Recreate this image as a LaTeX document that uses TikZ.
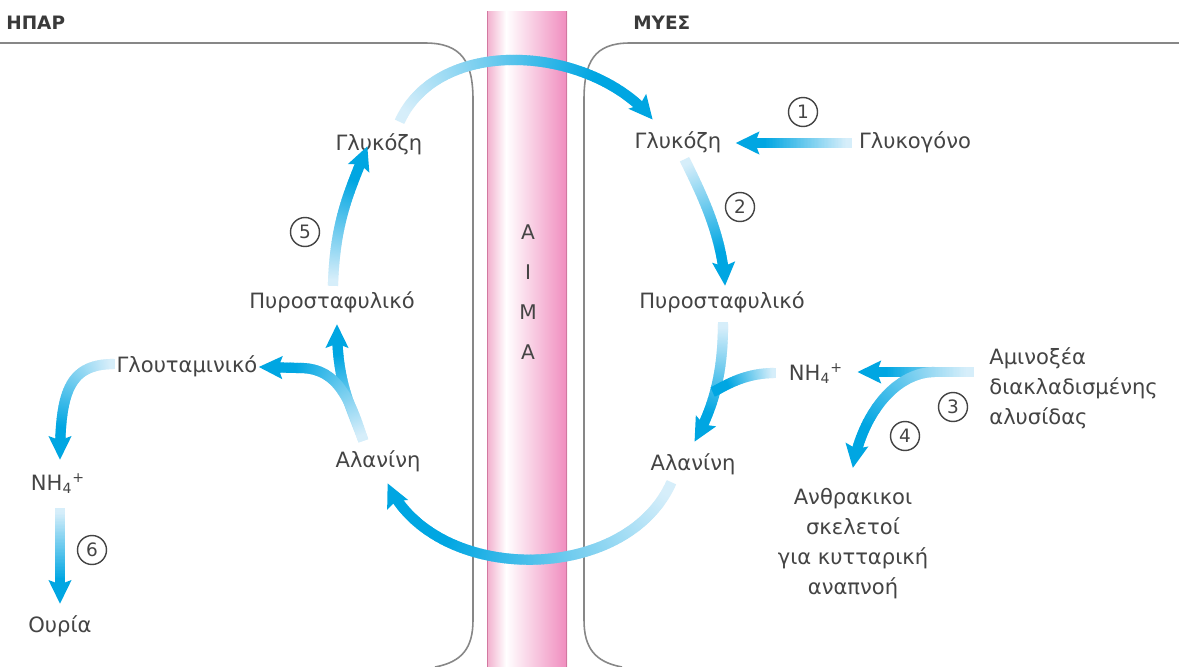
\documentclass[tikz,border=0pt]{standalone}
\usepackage{fontspec}
\setmainfont{DejaVu Sans}
\usetikzlibrary{decorations.markings,calc}
\definecolor{arrowblue}{RGB}{0,166,226}
\definecolor{paleblue}{RGB}{214,238,250}
\definecolor{txt}{RGB}{68,68,68}
\definecolor{panelgray}{RGB}{135,135,135}
\definecolor{pinkL}{RGB}{242,175,205}
\definecolor{pinkR}{RGB}{240,140,190}
\definecolor{pinkE}{RGB}{210,120,160}
\newcommand\gradpiece{%
  \pgfmathsetmacro\gp{max(0,min(100,140*(\pgfkeysvalueof{/pgf/decoration/mark info/distance from start}/\pgfdecoratedpathlength-0.04)))}%
  \fill[arrowblue!\gp!paleblue] (-0.6pt,-2.9pt) rectangle (0.6pt,2.9pt);}
\newcommand\ghead{\fill[arrowblue] (-13pt,-6.6pt) -- (0.5pt,0pt) -- (-13pt,6.6pt) -- (-10.5pt,0pt) -- cycle;}
\tikzset{
  garrow/.style={postaction={decorate,decoration={markings,
      mark=between positions 0 and -10pt step 0.8pt with {\gradpiece}}},
    postaction={decorate,decoration={markings,
      mark=at position 0.9999 with {\ghead}}}},
  gline/.style={postaction={decorate,decoration={markings,
      mark=between positions 0 and 1 step 0.8pt with {\gradpiece}}}},
  lbl/.style={text=txt, font=\fontsize{12}{17}\selectfont, inner sep=0pt, text height=8.8pt, text depth=2.4pt},
  head/.style={text=txt!85!black, font=\bfseries\fontsize{10.5}{12}\selectfont, inner sep=0pt, anchor=west},
  num/.style={circle, draw=txt, line width=0.8pt, text=txt, font=\fontsize{10.5}{12}\selectfont, minimum size=0.58cm, inner sep=0pt},
  vessel/.style={text=txt, font=\fontsize{11.5}{12}\selectfont, inner sep=0pt},
  panelline/.style={draw=panelgray, line width=0.9pt}
}
\begin{document}
\begin{tikzpicture}[x=0.02cm, y=-0.02cm]
\useasboundingbox (0,0) rectangle (1179,666);
\fill[white] (0,0) rectangle (1179,666);
% panels
\draw[panelline] (0,43) -- (425,43) .. controls (462,43) and (473,62) .. (473,100) -- (473,620) .. controls (473,648) and (462,662) .. (435,667);
\draw[panelline] (1179,43) -- (630,43) .. controls (594,43) and (584,62) .. (584,100) -- (584,620) .. controls (584,648) and (595,662) .. (622,667);
% blood vessel
\shade[left color=pinkL, right color=white] (487,11) rectangle (506,667);
\shade[left color=white, right color=pinkR] (506,11) rectangle (567,667);
\draw[pinkE, line width=0.8pt] (487.5,11) -- (487.5,667);
\draw[pinkE, line width=0.8pt] (566.5,11) -- (566.5,667);
\node[vessel] (v1) at (528,232) {Α};
\node[vessel] (v2) at (528,272) {Ι};
\node[vessel] (v3) at (528,312) {Μ};
\node[vessel] (v4) at (528,352) {Α};
% headings
\node[head] (hpar) at (6,23) {ΗΠΑΡ};
\node[head] (myes) at (633,23) {ΜΥΕΣ};
% labels right
\node[lbl] (gluR) at (678,143) {Γλυκόζη};
\node[lbl] (glyc) at (915,143) {Γλυκογόνο};
\node[lbl] (pyrR) at (722,303) {Πυροσταφυλικό};
\node[lbl] (alaR) at (693,465) {Αλανίνη};
\node[lbl] (nhR) at (816,375) {NH\textsubscript{4}\textsuperscript{+}};
\node[lbl, text height=, text depth=, anchor=west, align=left] (amino) at (989,388) {Αμινοξέα\\διακλαδισμένης\\αλυσίδας};
\node[lbl, text height=, text depth=, anchor=north, align=center] (carbon) at (853,488) {Ανθρακικοι\\σκελετοί\\για κυτταρική\\αναπνοή};
% labels left
\node[lbl] (gluL) at (379,145) {Γλυκόζη};
\node[lbl] (pyrL) at (332,303) {Πυροσταφυλικό};
\node[lbl] (glut) at (187,367) {Γλουταμινικό};
\node[lbl] (alaL) at (378,462) {Αλανίνη};
\node[lbl] (nhL) at (58,485) {NH\textsubscript{4}\textsuperscript{+}};
\node[lbl] (urea) at (60,627) {Ουρία};
% numbers
\node[num] (n1) at (803,112) {1};
\node[num] (n2) at (740,207) {2};
\node[num] (n3) at (953,407) {3};
\node[num] (n4) at (905,436) {4};
\node[num] (n5) at (305,232) {5};
\node[num] (n6) at (92,550) {6};
% arrows
\path[garrow] ($(gluL.north)+(21,-14)$) .. controls (440,35) and (590,45) .. ($(gluR.north)+(-26,-14)$);
\path[garrow] ($(glyc.west)+(-8,0)$) -- ($(gluR.east)+(15,0)$);
\path[garrow] ($(gluR.south)+(7,7)$) .. controls (702,195) and (722,235) .. ($(pyrR.north)+(3,-8)$);
\path[garrow] ($(pyrR.south)+(1,10)$) .. controls (723,375) and (713,408) .. ($(alaR.north)+(2,-14)$);
\path[gline] ($(nhR.west)+(-14,-2)$) .. controls (742,373) and (722,388) .. ($(alaR.north)+(20,-63)$);
\path[garrow] ($(amino.west)+(-16,-16)$) -- ($(nhR.east)+(15,-3)$);
\path[garrow] ($(amino.west)+(-16,-16)$) -- (935,372) .. controls (895,372) and (862,415) .. ($(carbon.north)+(0,-21)$);
\path[garrow] ($(alaR.south)+(-22,8)$) .. controls (625,585) and (435,585) .. ($(alaL.south)+(10,12)$);
\path[garrow] ($(alaL.north)+(-15,-12)$) .. controls (348,400) and (337,380) .. ($(pyrL.south)+(5,12)$);
\path[garrow] ($(alaL.north)+(-15,-12)$) .. controls (350,400) and (338,368) .. (300,368) -- ($(glut.east)+(2,0)$);
\path[garrow] ($(pyrL.north)+(1,-8)$) .. controls (335,220) and (350,190) .. ($(gluL.south)+(-12,-8)$);
\path[garrow] ($(glut.west)+(-2,-3)$) .. controls (70,364) and (60,390) .. ($(nhL.north)+(2,-16)$);
\path[garrow] ($(nhL.south)+(2,14)$) -- ($(urea.north)+(0,-14)$);
\end{tikzpicture}
\end{document}
